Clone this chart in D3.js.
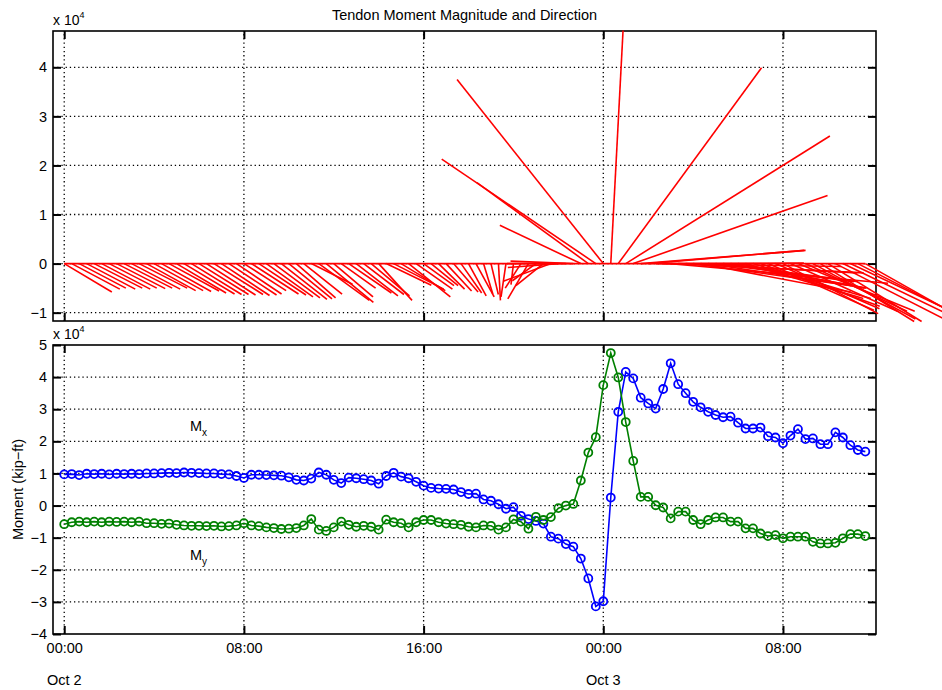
<!DOCTYPE html>
<html>
<head>
<meta charset="utf-8">
<script src="https://cdn.jsdelivr.net/npm/d3@7"></script>
<style>
  body { margin: 0; background: #fff; }
  text { font-family: "Liberation Sans", Arial, Helvetica, sans-serif; fill: #000; }
</style>
</head>
<body>
<div id="chart"></div>
<script>
// Tendon moments, units of 1e4 kip-ft, one sample every 20 min from Oct 2 00:00
const mx = [
  0.97, 0.98, 0.95, 0.99, 0.98, 0.99, 0.97, 0.99, 0.98, 0.99, 0.98, 1.00,
  1.00, 1.01, 1.02, 1.01, 1.03, 1.02, 1.01, 1.00, 1.00, 0.98, 0.97, 0.92,
  0.86, 0.96, 0.96, 0.95, 0.94, 0.93, 0.88, 0.80, 0.78, 0.84, 1.03, 0.96,
  0.80, 0.70, 0.87, 0.85, 0.82, 0.78, 0.68, 0.92, 1.02, 0.90, 0.85, 0.74,
  0.62, 0.55, 0.53, 0.52, 0.50, 0.42, 0.36, 0.37, 0.19, 0.15, 0.04, -0.10,
  -0.05, -0.32, -0.42, -0.48, -0.56, -0.97, -1.03, -1.20, -1.28, -1.65, -2.27, -3.14,
  -2.98, 0.25, 2.92, 4.16, 3.96, 3.36, 3.18, 3.02, 3.63, 4.43, 3.78, 3.50,
  3.23, 3.06, 2.92, 2.82, 2.75, 2.77, 2.58, 2.40, 2.40, 2.43, 2.16, 2.12,
  1.94, 2.18, 2.38, 2.07, 2.09, 1.91, 1.91, 2.28, 2.12, 1.88, 1.73, 1.68
];
const my = [
  -0.58, -0.52, -0.50, -0.52, -0.50, -0.52, -0.50, -0.51, -0.50, -0.52, -0.50, -0.55,
  -0.55, -0.57, -0.56, -0.60, -0.62, -0.63, -0.63, -0.64, -0.63, -0.65, -0.64, -0.62,
  -0.55, -0.62, -0.64, -0.68, -0.70, -0.73, -0.72, -0.70, -0.62, -0.42, -0.75, -0.79,
  -0.68, -0.50, -0.60, -0.66, -0.63, -0.66, -0.75, -0.44, -0.52, -0.55, -0.68, -0.52,
  -0.45, -0.45, -0.52, -0.56, -0.58, -0.60, -0.66, -0.68, -0.62, -0.63, -0.75, -0.68,
  -0.43, -0.50, -0.72, -0.35, -0.45, -0.36, -0.08, 0.00, 0.05, 0.78, 1.65, 2.13,
  3.75, 4.75, 3.99, 2.60, 1.39, 0.27, 0.27, 0.01, -0.06, -0.40, -0.19, -0.19,
  -0.45, -0.58, -0.45, -0.37, -0.37, -0.50, -0.50, -0.71, -0.71, -0.87, -0.95, -0.92,
  -1.02, -0.97, -0.97, -0.97, -1.13, -1.18, -1.18, -1.16, -1.02, -0.89, -0.89, -0.95
];

const start = new Date(2000, 9, 2, 0, 0);
const stepMinutes = 20;
const timeTicks = [
  new Date(2000, 9, 2, 0), new Date(2000, 9, 2, 8), new Date(2000, 9, 2, 16),
  new Date(2000, 9, 3, 0), new Date(2000, 9, 3, 8)
];
const dayLabels = [
  {date: new Date(2000, 9, 2, 0), label: "Oct 2"},
  {date: new Date(2000, 9, 3, 0), label: "Oct 3"}
];
const topTicks = [-1, 0, 1, 2, 3, 4];
const bottomTicks = [-4, -3, -2, -1, 0, 1, 2, 3, 4, 5];

const times = mx.map((d, i) => d3.timeMinute.offset(start, i * stepMinutes));

const W = 942, H = 690;
const left = 53, right = 876;

const svg = d3.select("#chart").append("svg")
  .attr("width", W).attr("height", H)
  .style("background", "#fff");

const x = d3.scaleTime()
  .domain([new Date(start.getTime() - 30 * 60000), new Date(start.getTime() + (36 * 60 + 8.5) * 60000)])
  .range([left, right]);

const yTop = d3.scaleLinear().domain([-1.17, 4.74]).range([321, 31]);
const yBot = d3.scaleLinear().domain([-4, 5]).range([634, 345]);

// draws grid, ticks and box for one panel
function drawAxes(y, ticks, showX) {
  const [y0, y1] = y.range();
  const g = svg.append("g");

  // dotted grid
  g.selectAll(".hg").data(ticks.filter(t => y(t) < y0 - 1 && y(t) > y1 + 1)).join("line")
    .attr("x1", left).attr("x2", right)
    .attr("y1", d => y(d)).attr("y2", d => y(d))
    .attr("stroke", "#000").attr("stroke-width", 1.3)
    .attr("stroke-dasharray", "1.3,2.9");
  g.selectAll(".vg").data(timeTicks).join("line")
    .attr("x1", d => x(d)).attr("x2", d => x(d))
    .attr("y1", y0).attr("y2", y1)
    .attr("stroke", "#000").attr("stroke-width", 1.3)
    .attr("stroke-dasharray", "1.3,2.9");

  const tl = 8;
  const yl = g.append("g").attr("transform", `translate(${left},0)`)
    .call(d3.axisLeft(y).tickValues(ticks).tickSizeInner(-tl).tickSizeOuter(0)
      .tickPadding(6).tickFormat(d3.format("d")));
  const yr = g.append("g").attr("transform", `translate(${right},0)`)
    .call(d3.axisRight(y).tickValues(ticks).tickSizeInner(-tl).tickSizeOuter(0).tickFormat(""));
  const xb = g.append("g").attr("transform", `translate(0,${y0})`)
    .call(d3.axisBottom(x).tickValues(timeTicks).tickSizeInner(-tl).tickSizeOuter(0)
      .tickPadding(9).tickFormat(showX ? d3.timeFormat("%H:%M") : ""));
  const xt = g.append("g").attr("transform", `translate(0,${y1})`)
    .call(d3.axisTop(x).tickValues(timeTicks).tickSizeInner(-tl).tickSizeOuter(0).tickFormat(""));

  [yl, yr, xb, xt].forEach(a => {
    a.select(".domain").remove();
    a.selectAll(".tick line").attr("stroke", "#000").attr("stroke-width", 2);
    a.selectAll("text").attr("font-size", 14.5).attr("font-family", null).attr("fill", "#000");
  });

  g.append("rect")
    .attr("x", left).attr("y", y1)
    .attr("width", right - left).attr("height", y0 - y1)
    .attr("fill", "none").attr("stroke", "#000").attr("stroke-width", 1.6);

  // exponent label
  const ex = g.append("text").attr("x", left).attr("y", y1 - 6).attr("font-size", 14);
  ex.append("tspan").text("x 10");
  ex.append("tspan").attr("font-size", 9).attr("dy", -7).text("4");
  return g;
}

// top panel: feather of (Mx, My)
drawAxes(yTop, topTicks, false);
const unit = yTop(0) - yTop(1);
svg.append("line")
  .attr("x1", x(times[0])).attr("x2", x(times[times.length - 1]))
  .attr("y1", yTop(0)).attr("y2", yTop(0))
  .attr("stroke", "#ff0000").attr("stroke-width", 1.6);
svg.append("g").selectAll("line").data(times).join("line")
  .attr("x1", d => x(d))
  .attr("y1", yTop(0))
  .attr("x2", (d, i) => x(d) + mx[i] * unit)
  .attr("y2", (d, i) => yTop(my[i]))
  .attr("stroke", "#ff0000").attr("stroke-width", 1.6);

svg.append("text")
  .attr("x", (left + right) / 2).attr("y", 20)
  .attr("text-anchor", "middle").attr("font-size", 14.5)
  .text("Tendon Moment Magnitude and Direction");

// bottom panel: time series
drawAxes(yBot, bottomTicks, true);

function series(vals, color) {
  const g = svg.append("g");
  g.append("path")
    .datum(vals)
    .attr("fill", "none").attr("stroke", color).attr("stroke-width", 1.6)
    .attr("d", d3.line().x((d, i) => x(times[i])).y(d => yBot(d)));
  g.selectAll("circle").data(vals).join("circle")
    .attr("cx", (d, i) => x(times[i])).attr("cy", d => yBot(d))
    .attr("r", 4)
    .attr("fill", "none").attr("stroke", color).attr("stroke-width", 1.8);
}
series(mx, "#0000ff");
series(my, "#008000");

// day labels under the time axis
svg.append("g").selectAll("text").data(dayLabels).join("text")
  .attr("x", d => x(d.date)).attr("y", 685)
  .attr("text-anchor", "middle").attr("font-size", 14.5)
  .text(d => d.label);

// y label
svg.append("text")
  .attr("transform", `translate(23,${(345 + 634) / 2}) rotate(-90)`)
  .attr("text-anchor", "middle").attr("font-size", 14.5)
  .text("Moment (kip\u2212ft)");

// series labels
function seriesLabel(t, v, main, sub) {
  const tx = svg.append("text").attr("x", x(t)).attr("y", yBot(v)).attr("font-size", 14.5);
  tx.append("tspan").text(main);
  tx.append("tspan").attr("font-size", 10).attr("dy", 5).text(sub);
}
seriesLabel(new Date(2000, 9, 2, 5, 36), 2.32, "M", "x");
seriesLabel(new Date(2000, 9, 2, 5, 36), -1.7, "M", "y");
</script>
</body>
</html>
